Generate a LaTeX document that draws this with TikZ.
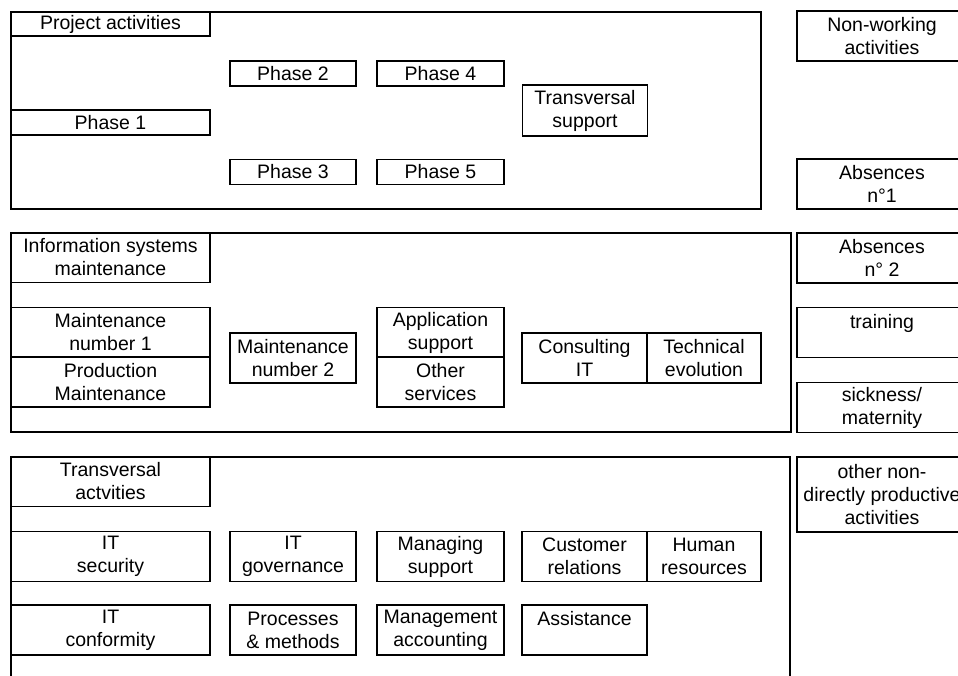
\documentclass[tikz,border=0pt]{standalone}
\usepackage{fontspec}
\setmainfont{Liberation Sans}
\begin{document}
\begin{tikzpicture}[x=1pt,y=-1pt,line width=1.8pt,
    colA/.style={minimum width=199},
    colB/.style={minimum width=126},
    colC/.style={minimum width=127},
    colD/.style={minimum width=125},
    colE/.style={minimum width=114},
    colR/.style={minimum width=170},
    one/.style={minimum height=25},
    two/.style={minimum height=50}]

  \useasboundingbox (0,0) rectangle (958,675);

  % frames of the three groups
  \draw (11,12) rectangle (761,209);
  \draw (11,233) rectangle (791,432);
  \draw (11,685) -- (11,457) -- (790,457) -- (790,685);

  \begin{scope}[every node/.style={draw,rectangle,inner sep=0pt,align=center,
      font=\fontsize{19.5}{23}\selectfont}]
    % project activities
    \node[colA,minimum height=24] (proj) at (110.5,24)    {Project activities};
    \node[colA,one]  (ph1)     at (110.5,122.5) {Phase 1};
    \node[colB,one]  (ph2)     at (293,73.5)    {Phase 2};
    \node[colB,one]  (ph3)     at (293,172)     {Phase 3};
    \node[colC,one]  (ph4)     at (440.5,73.5)  {Phase 4};
    \node[colC,one]  (ph5)     at (440.5,172)   {Phase 5};
    \node[colD,minimum height=51] (tsup) at (585,110.5) {Transversal\\support};

    % information systems maintenance
    \node[colA,two]  (ism)     at (110.5,257.5) {Information systems\\maintenance};
    \node[colA,two]  (maint1)  at (110.5,332.5) {Maintenance\\number 1};
    \node[colA,two]  (prodm)   at (110.5,382)   {Production\\Maintenance};
    \node[colB,two]  (maint2)  at (293,358)     {Maintenance\\number 2};
    \node[colC,two]  (appsup)  at (440.5,332.5) {Application\\support};
    \node[colC,two]  (othsrv)  at (440.5,382)   {Other\\services};
    \node[colD,two]  (consit)  at (584.5,358)   {Consulting\\IT};
    \node[colE,two]  (techev)  at (704,358)     {Technical\\evolution};

    % transversal activities
    \node[colA,two]  (tact)    at (110.5,481.5) {Transversal\\actvities};
    \node[colA,two]  (itsec)   at (110.5,556.5) {IT\\security};
    \node[colA,two]  (itconf)  at (110.5,630)   {IT\\conformity};
    \node[colB,two]  (itgov)   at (293,556.5)   {IT\\governance};
    \node[colB,two]  (procm)   at (293,630)     {Processes\\\& methods};
    \node[colC,two]  (mansup)  at (440.5,556.5) {Managing\\support};
    \node[colC,two]  (mgmtacc) at (440.5,630)   {Management\\accounting};
    \node[colD,two]  (custrel) at (584.5,556.5) {Customer\\relations};
    \node[colE,two]  (humres)  at (704,556.5)   {Human\\resources};
    \node[colD,two]  (assist)  at (584.5,630)   {Assistance\\~};

    % non-working activities
    \node[colR,two]  (nonwork) at (882,36)      {Non-working\\activities};
    \node[colR,two]  (abs1)    at (882,184)     {Absences\\n°1};
    \node[colR,two]  (abs2)    at (882,258)     {Absences\\n° 2};
    \node[colR,two]  (train)   at (882,332.5)   {training\\~};
    \node[colR,two]  (sick)    at (882,407.5)   {sickness/\\maternity};
    \node[colR,minimum height=75] (othnd) at (882,494.5) {other non-\\directly productive\\activities};
  \end{scope}

\end{tikzpicture}
\end{document}
